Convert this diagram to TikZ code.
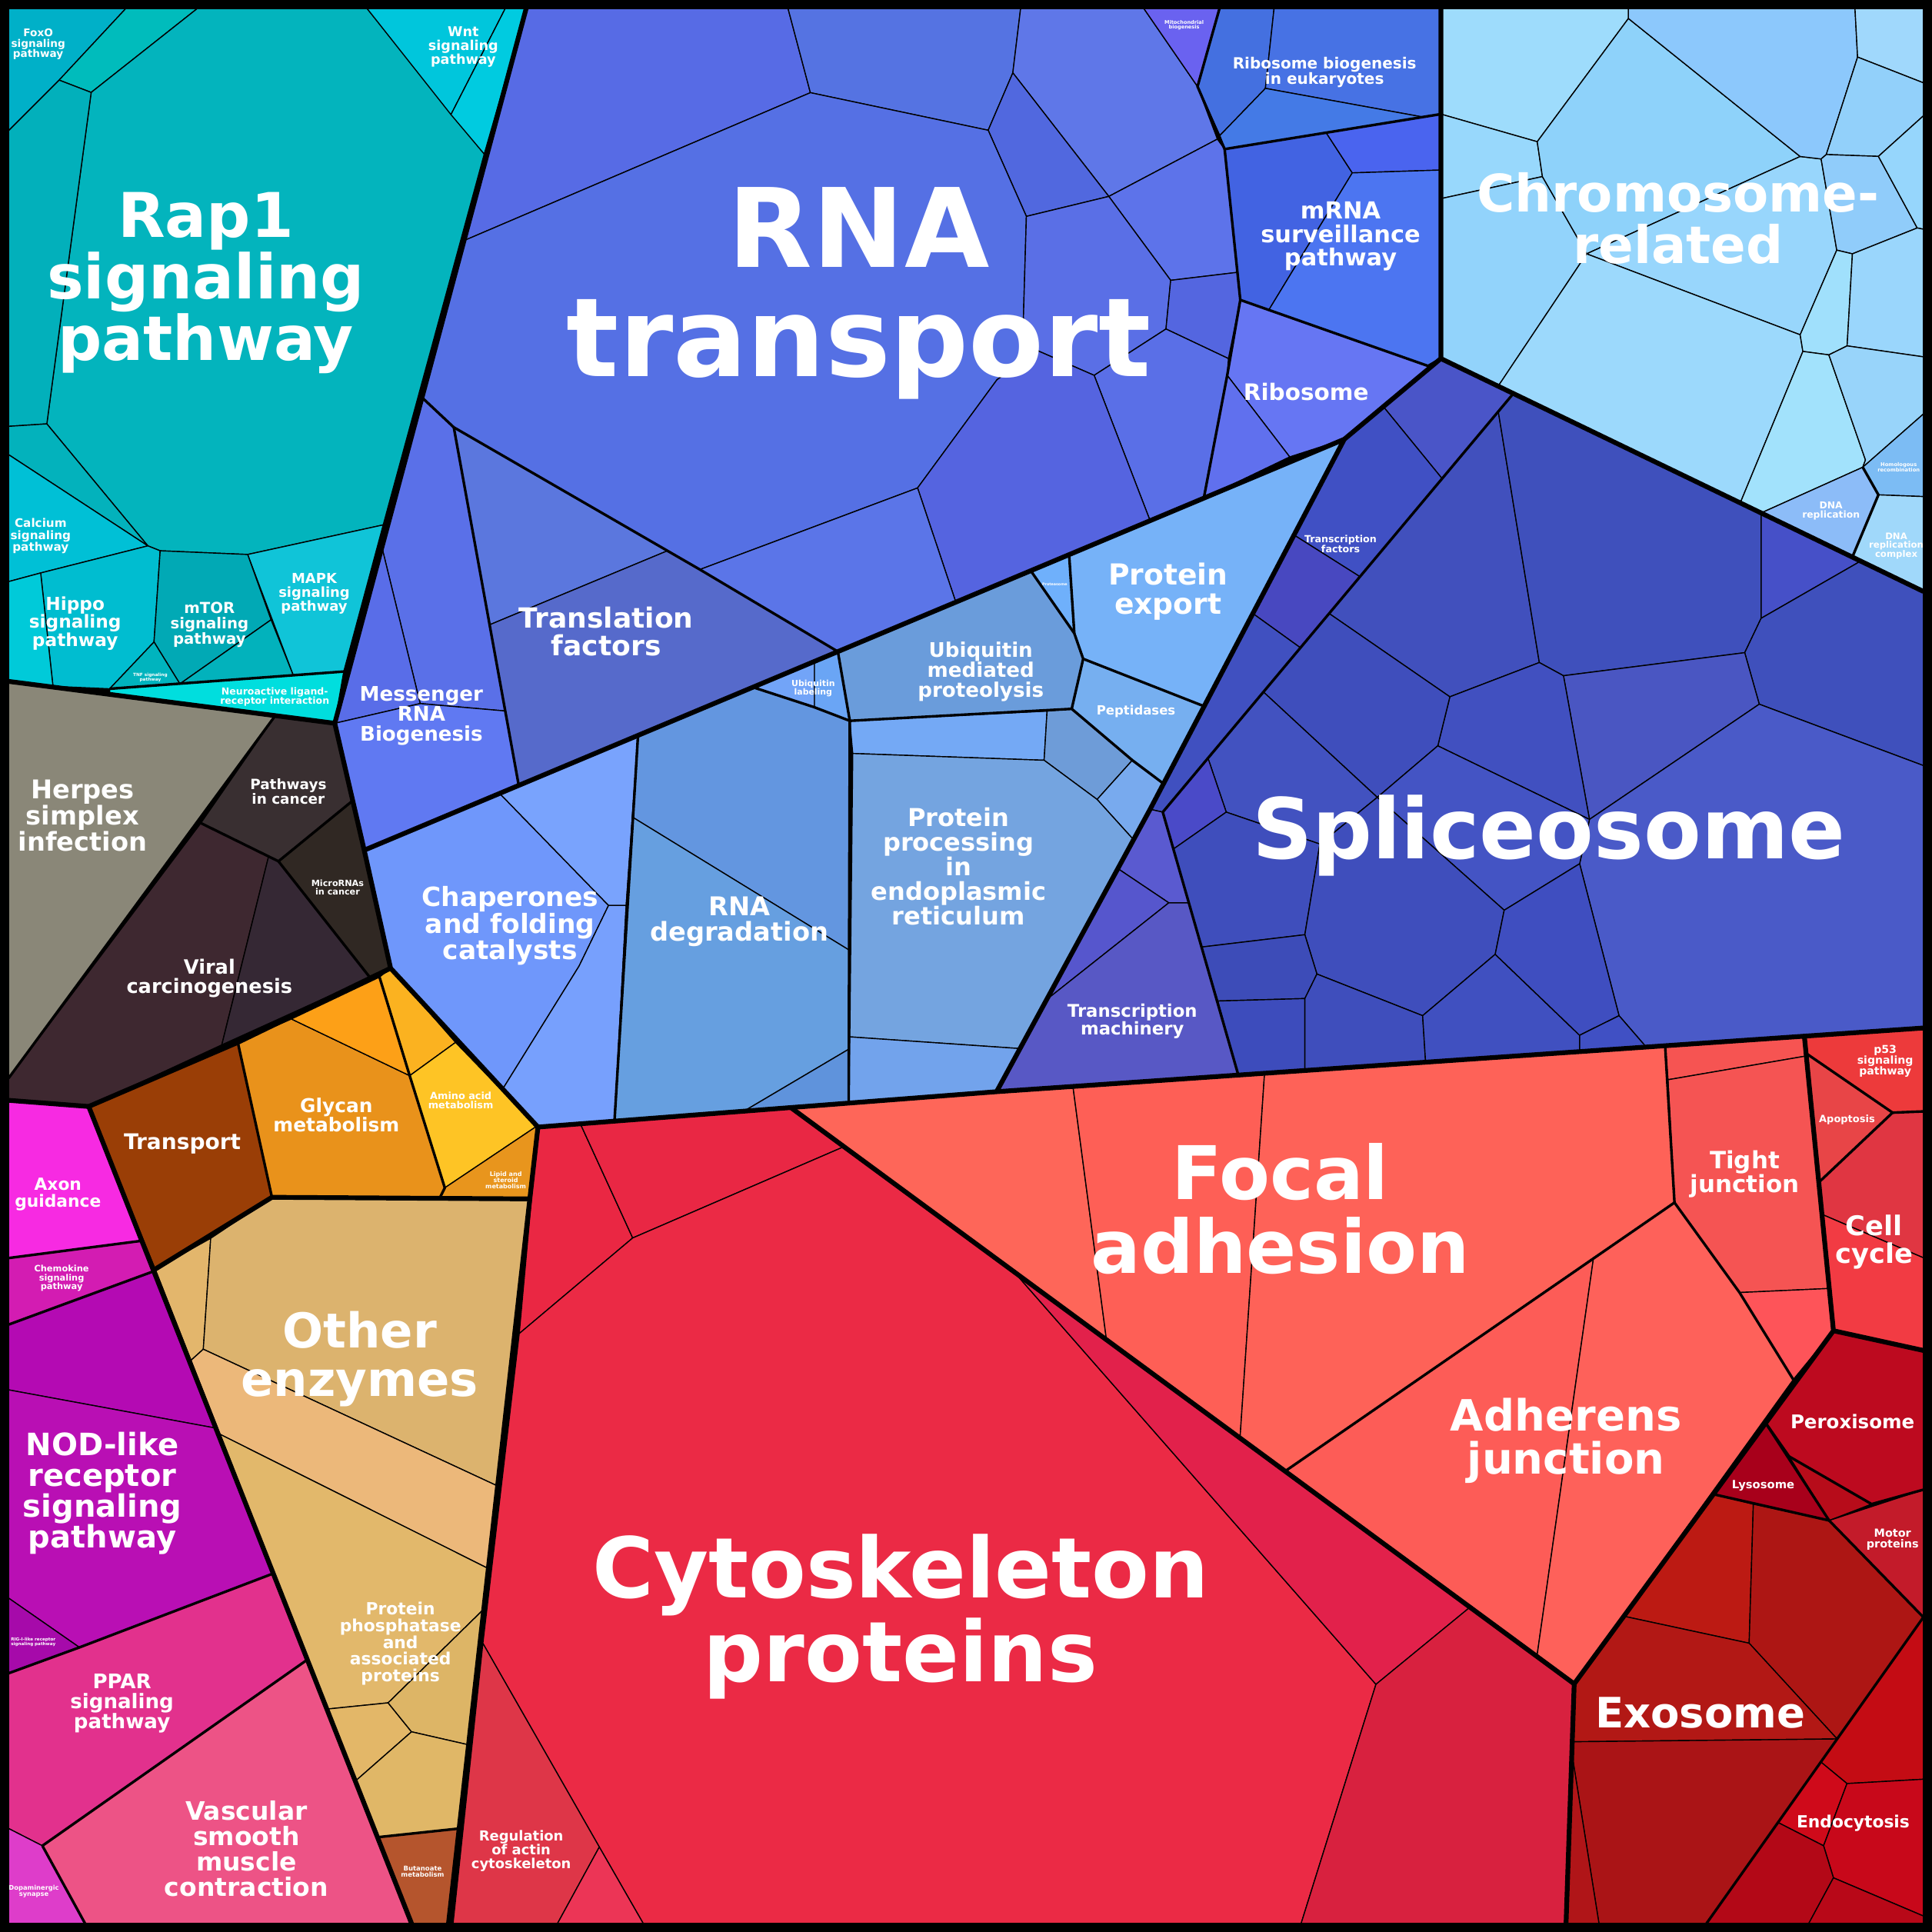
\documentclass[tikz,border=0pt]{standalone}
\usepackage{fontspec}
\setmainfont{DejaVu Sans}
\begin{document}
\begin{tikzpicture}[x=0.1mm, y=-0.1mm,
  cell/.style={draw=black, line width=0.25pt, line join=round},
  cf/.style={/utils/exec={\definecolor{cellc}{HTML}{#1}}, fill=cellc},
  mid/.style={line width=0.6pt, line join=round},
  thk/.style={line width=1.1pt, line join=round},
  lbl/.style={text=white, align=center, inner sep=0pt},
  fs/.style={font=\fontsize{#1mm}{#1mm}\selectfont\bfseries},
  ]
\useasboundingbox (0,0) rectangle (1568,1568);
\fill[black] (0,0) rectangle (1568,1568);

\filldraw[cell,cf=00B0C8] (7,7) -- (102,7) -- (48,65) -- (7,106) -- cycle;
\filldraw[cell,cf=00BCBC] (102,7) -- (160,7) -- (74,75) -- (48,65) -- cycle;
\filldraw[cell,cf=03B4BD] (160,7) -- (298,7) -- (393,125) -- (311,426) -- (201,450) -- (130,447) -- (120,443) -- (38,344) -- (74,75) -- cycle;
\filldraw[cell,cf=00C6DC] (298,7) -- (410,7) -- (366,93) -- cycle;
\filldraw[cell,cf=00CBE0] (410,7) -- (427,7) -- (393,125) -- (366,93) -- cycle;
\filldraw[cell,cf=02B0BB] (7,106) -- (48,65) -- (74,75) -- (38,344) -- (7,346) -- cycle;
\filldraw[cell,cf=03B2BC] (7,346) -- (38,344) -- (120,443) -- (7,369) -- cycle;
\filldraw[cell,cf=00C0D6] (7,369) -- (120,443) -- (33,465) -- (7,472) -- cycle;
\filldraw[cell,cf=00BDD0] (33,465) -- (120,443) -- (130,447) -- (125,521) -- (89,559) -- (43,557) -- cycle;
\filldraw[cell,cf=00CAD9] (7,472) -- (33,465) -- (43,557) -- (7,553) -- cycle;
\filldraw[cell,cf=10C4D8] (201,450) -- (311,426) -- (279,545) -- (238,548) -- cycle;
\filldraw[cell,cf=01A9B5] (130,447) -- (201,450) -- (220,503) -- (146,555) -- (125,521) -- cycle;
\filldraw[cell,cf=02B2BC] (220,503) -- (238,548) -- (146,555) -- cycle;
\filldraw[cell,cf=00B4BE] (125,521) -- (146,555) -- (89,559) -- cycle;
\filldraw[cell,cf=00DEDE] (89,559) -- (279,545) -- (271.7,587) -- (89,563) -- cycle;

\filldraw[cell,cf=8A8778] (7,553) -- (224,580) -- (7,875) -- cycle;
\filldraw[cell,cf=392F31] (224,580) -- (271.7,587) -- (286,650) -- (226,699) -- (163,668) -- cycle;
\filldraw[cell,cf=302823] (286,650) -- (295.6,690) -- (317,785.8) -- (300,793) -- (226,699) -- cycle;
\filldraw[cell,cf=3E2830] (163,668) -- (218,695) -- (180,848) -- (72,898) -- (7,893) -- (7,875) -- cycle;
\filldraw[cell,cf=352834] (218,695) -- (226,699) -- (300,793) -- (317,785.8) -- (180,848) -- cycle;

\filldraw[cell,cf=9A3E06] (72,898) -- (193,846) -- (220.7,971.7) -- (126,1030) -- cycle;
\filldraw[cell,cf=E9921B] (193,846) -- (236.5,827) -- (332.5,873) -- (361,964) -- (357,972) -- (220.7,971.7) -- cycle;
\filldraw[cell,cf=FDA017] (236.5,827) -- (308,793) -- (332.5,873) -- cycle;
\filldraw[cell,cf=FBB220] (308,793) -- (317,785.8) -- (369.7,846) -- (332.5,873) -- cycle;
\filldraw[cell,cf=FEC425] (332.5,873) -- (369.7,846) -- (435.6,914) -- (361,964) -- cycle;
\filldraw[cell,cf=E8951D] (361,964) -- (435.6,914) -- (430,973) -- (357,972) -- cycle;

\filldraw[cell,cf=E3B66C] (126,1030) -- (171,1005) -- (165,1095) -- (155,1104) -- cycle;
\filldraw[cell,cf=DCB36E] (171,1005) -- (220.7,971.7) -- (430,973) -- (403.8,1206) -- (165,1095) -- cycle;
\filldraw[cell,cf=ECB87A] (155,1104) -- (165,1095) -- (403.8,1206) -- (396.3,1273) -- (178.5,1164) -- cycle;
\filldraw[cell,cf=E2B86B] (178.5,1164) -- (396.3,1273) -- (392.6,1306) -- (315,1382) -- (266,1387) -- cycle;
\filldraw[cell,cf=E3B768] (266,1387) -- (315,1382) -- (334,1405.5) -- (289,1445) -- cycle;
\filldraw[cell,cf=DDB566] (315,1382) -- (392.6,1306) -- (380,1416) -- (334,1405.5) -- cycle;
\filldraw[cell,cf=E0B767] (289,1445) -- (334,1405.5) -- (380,1416) -- (372.7,1484) -- (307,1491) -- cycle;
\filldraw[cell,cf=B5552D] (307,1491) -- (372.7,1484) -- (364,1561) -- (334,1561) -- cycle;

\filldraw[cell,cf=F72AE2] (7,894) -- (72,898) -- (115,1007) -- (7,1021) -- cycle;
\filldraw[cell,cf=D31CB2] (7,1021) -- (115,1007) -- (124,1032) -- (7,1075) -- cycle;
\filldraw[cell,cf=B40AB3] (7,1075) -- (124,1032) -- (175,1159) -- (7,1128) -- cycle;
\filldraw[cell,cf=B90FB4] (7,1128) -- (175,1159) -- (221.8,1277) -- (64.5,1337) -- (7,1297) -- cycle;
\filldraw[cell,cf=A60AAA] (7,1297) -- (64.5,1337) -- (7,1358) -- cycle;
\filldraw[cell,cf=E2318D] (7,1358) -- (64.5,1337) -- (221.8,1277) -- (249.4,1347) -- (34.4,1498) -- (7,1484) -- cycle;
\filldraw[cell,cf=DE3DCA] (7,1484) -- (34.4,1498) -- (69,1561) -- (7,1561) -- cycle;
\filldraw[cell,cf=ED5386] (34.4,1498) -- (249.4,1347) -- (334,1561) -- (69,1561) -- cycle;

\filldraw[cell,cf=EA2743] (436.6,914.7) -- (471,912) -- (513.5,1004.7) -- (421.4,1082.3) -- cycle;
\filldraw[cell,cf=E92744] (471,912) -- (642,899) -- (685,930.6) -- (513.5,1004.7) -- cycle;
\filldraw[cell,cf=EB2A45] (421.4,1082.3) -- (513.5,1004.7) -- (685,930.6) -- (823,1032.2) -- (1116.7,1367) -- (1056,1561) -- (522,1561) -- (486.4,1499) -- (391.9,1333.7) -- cycle;
\filldraw[cell,cf=E2214B] (823,1032.2) -- (1193,1304.4) -- (1116.7,1367) -- cycle;
\filldraw[cell,cf=D8213F] (1116.7,1367) -- (1193,1304.4) -- (1277.6,1366.6) -- (1271,1561) -- (1056,1561) -- cycle;
\filldraw[cell,cf=DE3648] (391.9,1333.7) -- (486.4,1499) -- (452.5,1561) -- (367.7,1561) -- cycle;
\filldraw[cell,cf=EC3556] (486.4,1499) -- (522,1561) -- (452.5,1561) -- cycle;

\filldraw[cell,cf=FE6659] (642,899) -- (870.8,881.7) -- (898,1087.3) -- cycle;
\filldraw[cell,cf=FE5F56] (870.8,881.7) -- (1026.3,871) -- (1006.4,1167.1) -- (898,1087.3) -- cycle;
\filldraw[cell,cf=FE6258] (1026.3,871) -- (1351.4,848.7) -- (1359,976) -- (1043,1194) -- (1006.4,1167.1) -- cycle;
\filldraw[cell,cf=FD5C57] (1043,1194) -- (1293.3,1020.8) -- (1247.4,1344.1) -- cycle;
\filldraw[cell,cf=FE615A] (1293.3,1020.8) -- (1359,976) -- (1411.8,1049) -- (1455.4,1119.6) -- (1277.6,1366.6) -- (1247.4,1344.1) -- cycle;
\filldraw[cell,cf=F65452] (1351.4,848.7) -- (1464.4,841) -- (1466,857) -- (1353.7,876.3) -- cycle;
\filldraw[cell,cf=F55453] (1353.7,876.3) -- (1466,857) -- (1484.6,1045.7) -- (1411.8,1049) -- (1359,976) -- cycle;
\filldraw[cell,cf=FE5459] (1411.8,1049) -- (1484.6,1045.7) -- (1488,1080) -- (1455.4,1119.6) -- cycle;

\filldraw[cell,cf=ED3A3B] (1464.4,841) -- (1561,834.3) -- (1561,902) -- (1536,903) -- (1466,855) -- cycle;
\filldraw[cell,cf=E84547] (1466,855) -- (1536,903) -- (1476.1,959.6) -- cycle;
\filldraw[cell,cf=E03642] (1476.1,959.6) -- (1536,903) -- (1561,902) -- (1561,1020.8) -- (1478.6,985.5) -- cycle;
\filldraw[cell,cf=F23B43] (1478.6,985.5) -- (1561,1020.8) -- (1561,1096) -- (1488,1080) -- cycle;

\filldraw[cell,cf=BD0A1F] (1488,1080) -- (1561,1096) -- (1561,1209) -- (1519,1220.7) -- (1452,1182) -- (1433,1154.9) -- cycle;
\filldraw[cell,cf=B70C1A] (1452,1182) -- (1519,1220.7) -- (1484.5,1234) -- cycle;
\filldraw[cell,cf=A8001B] (1433,1154.9) -- (1484.5,1234) -- (1390.6,1212.7) -- cycle;
\filldraw[cell,cf=C31B2A] (1484.5,1234) -- (1561,1209) -- (1561,1312.5) -- cycle;
\filldraw[cell,cf=BC1A13] (1390.6,1212.7) -- (1423,1220.7) -- (1419.6,1333.6) -- (1317.9,1311.7) -- cycle;
\filldraw[cell,cf=AD1614] (1423,1220.7) -- (1484.5,1234) -- (1561,1312.5) -- (1491,1411.3) -- (1419.6,1333.6) -- cycle;
\filldraw[cell,cf=B21815] (1277.6,1366.6) -- (1317.9,1311.7) -- (1419.6,1333.6) -- (1491,1411.3) -- (1276,1413.6) -- cycle;
\filldraw[cell,cf=AA1416] (1276,1413.6) -- (1491,1411.3) -- (1385,1561) -- (1297.7,1561) -- (1275.7,1423) -- cycle;
\filldraw[cell,cf=B01518] (1275.7,1423) -- (1297.7,1561) -- (1271,1561) -- cycle;
\filldraw[cell,cf=C40C14] (1561,1312.5) -- (1561,1444) -- (1499,1447.5) -- (1477.8,1430) -- cycle;
\filldraw[cell,cf=CF0A1A] (1477.8,1430) -- (1499,1447.5) -- (1480,1498) -- (1443,1479.1) -- cycle;
\filldraw[cell,cf=C8081A] (1499,1447.5) -- (1561,1444) -- (1561,1555) -- (1488,1524) -- (1480,1498) -- cycle;
\filldraw[cell,cf=B30817] (1443,1479.1) -- (1480,1498) -- (1488,1524) -- (1468,1561) -- (1385,1561) -- cycle;
\filldraw[cell,cf=B80818] (1488,1524) -- (1561,1555) -- (1561,1561) -- (1468,1561) -- cycle;

\filldraw[cell,cf=576BE5] (427,7) -- (639.6,7) -- (657.7,75.2) -- (376.5,195.3) -- cycle;
\filldraw[cell,cf=5573E2] (639.6,7) -- (828.3,7) -- (822,59.1) -- (802,105.7) -- (657.7,75.2) -- cycle;
\filldraw[cell,cf=5F77E8] (828.3,7) -- (928.4,7) -- (971.9,70.2) -- (988,112.9) -- (899.9,159.4) -- (822,59.1) -- cycle;
\filldraw[cell,cf=6A62F0] (928.4,7) -- (989.7,7) -- (971.9,70.2) -- cycle;
\filldraw[cell,cf=5168DF] (822,59.1) -- (899.9,159.4) -- (833,175.6) -- (802,105.7) -- cycle;
\filldraw[cell,cf=5570E4] (376.5,195.3) -- (657.7,75.2) -- (802,105.7) -- (833,175.6) -- (830.6,258) -- (842.6,284.8) -- (809.2,308.1) -- (744.7,396) -- (568,462.2) -- (368.3,346.8) -- (342.4,322.5) -- cycle;
\filldraw[cell,cf=5D73EA] (899.9,159.4) -- (988,112.9) -- (993.9,121) -- (1004.5,221) -- (950.1,227.5) -- cycle;
\filldraw[cell,cf=5A6FE6] (833,175.6) -- (899.9,159.4) -- (950.1,227.5) -- (946.3,267) -- (888,304.6) -- (842.6,284.8) -- (830.6,258) -- cycle;
\filldraw[cell,cf=5466E0] (950.1,227.5) -- (1004.5,221) -- (1006.6,243.4) -- (997,291) -- (946.3,267) -- cycle;
\filldraw[cell,cf=5A6FE7] (888,304.6) -- (946.3,267) -- (997,291) -- (996,304.6) -- (977,404.3) -- (933.4,422.5) -- cycle;
\filldraw[cell,cf=5564E0] (842.6,284.8) -- (888,304.6) -- (933.4,422.5) -- (775.7,488.6) -- (744.7,396) -- (809.2,308.1) -- cycle;
\filldraw[cell,cf=5B75E8] (568,462.2) -- (744.7,396) -- (775.7,488.6) -- (680,528.8) -- cycle;
\filldraw[cell,cf=4470E0] (989.7,7) -- (1034,7) -- (1027,71.7) -- (990,110) -- (971.9,70.2) -- cycle;
\filldraw[cell,cf=4772E4] (1034,7) -- (1169.4,7) -- (1169.4,92.6) -- (1155,95) -- (1027,71.7) -- cycle;
\filldraw[cell,cf=447AE6] (990,110) -- (1027,71.7) -- (1155,95) -- (993.9,121) -- cycle;
\filldraw[cell,cf=4263E2] (993.9,121) -- (1076.3,107.7) -- (1097.5,140.3) -- (1029.8,251.5) -- (1006.6,243.4) -- cycle;
\filldraw[cell,cf=4A64EF] (1076.3,107.7) -- (1169.4,92.6) -- (1169.4,138) -- (1097.5,140.3) -- cycle;
\filldraw[cell,cf=4C75F1] (1097.5,140.3) -- (1169.4,138) -- (1169.4,291) -- (1159,297) -- (1029.8,251.5) -- cycle;
\filldraw[cell,cf=6676F3] (996,304.6) -- (1006.6,243.4) -- (1029.8,251.5) -- (1159,297) -- (1169.4,291) -- (1091,356.5) -- (1046.7,370.8) -- cycle;
\filldraw[cell,cf=6070EE] (996,304.6) -- (1046.7,370.8) -- (977,404.3) -- cycle;
\filldraw[cell,cf=5B77DE] (368.3,346.8) -- (541.7,447) -- (397.5,507) -- cycle;
\filldraw[cell,cf=566ACB] (397.5,507) -- (541.7,447) -- (568,462.2) -- (680,528.8) -- (421,637.4) -- cycle;
\filldraw[cell,cf=5A70E8] (342.4,322.5) -- (368.3,346.8) -- (410,577) -- (341,571) -- (310,444.3) -- cycle;
\filldraw[cell,cf=596DE8] (310,444.3) -- (341,571) -- (271.7,587) -- cycle;
\filldraw[cell,cf=6079F2] (271.7,587) -- (341,571) -- (410,577) -- (421,637.4) -- (295.6,690) -- cycle;

\filldraw[cell,cf=6F97FB] (295.6,690) -- (405.5,643.9) -- (493.9,734.8) -- (470,784) -- (407.9,884) -- (317,785.8) -- cycle;
\filldraw[cell,cf=79A3FD] (405.5,643.9) -- (517.8,596.8) -- (508.2,734.8) -- (493.9,734.8) -- cycle;
\filldraw[cell,cf=77A0FD] (493.9,734.8) -- (508.2,734.8) -- (498.7,910) -- (436.6,914.7) -- (407.9,884) -- (470,784) -- cycle;
\filldraw[cell,cf=6396E0] (517.8,596.8) -- (611,557.7) -- (661,574) -- (689.7,585) -- (689.7,771.4) -- (513.2,663.1) -- cycle;
\filldraw[cell,cf=669FE0] (513.2,663.1) -- (689.7,771.4) -- (689.7,851) -- (603.8,901.8) -- (498.7,910) -- (508.2,734.8) -- cycle;
\filldraw[cell,cf=5F93DC] (689.7,851) -- (688.8,895.3) -- (603.8,901.8) -- cycle;
\filldraw[cell,cf=72A4F8] (611,557.7) -- (661,536.8) -- (661,574) -- cycle;
\filldraw[cell,cf=6AA5F5] (661,536.8) -- (680,528.8) -- (689.7,585) -- (661,574) -- cycle;
\filldraw[cell,cf=6A9CDB] (680,528.8) -- (836.5,463.1) -- (871.9,514) -- (879.1,534.7) -- (869.8,575.3) -- (689.7,585) -- cycle;
\filldraw[cell,cf=6FB0FB] (836.5,463.1) -- (867.7,450.1) -- (871.9,514) -- cycle;
\filldraw[cell,cf=76B2F8] (867.7,450.1) -- (1091,356.5) -- (977.3,573.2) -- (879.1,534.7) -- (871.9,514) -- cycle;
\filldraw[cell,cf=76AFF0] (879.1,534.7) -- (977.3,573.2) -- (944.3,636) -- (919,617) -- (869.8,575.3) -- cycle;
\filldraw[cell,cf=74A9F5] (689.7,585) -- (849.8,577.1) -- (847.4,617) -- (692.1,611.5) -- cycle;
\filldraw[cell,cf=6E9CD8] (849.8,577.1) -- (869.8,575.3) -- (919,617) -- (890.4,648.8) -- (847.4,617) -- cycle;
\filldraw[cell,cf=78AAEE] (919,617) -- (944.3,636) -- (933.4,656.8) -- (920,681.5) -- (890.4,648.8) -- cycle;
\filldraw[cell,cf=74A4E0] (692.1,611.5) -- (847.4,617) -- (890.4,648.8) -- (920,681.5) -- (827.8,851) -- (689.7,841.5) -- cycle;
\filldraw[cell,cf=72A3EC] (689.7,841.5) -- (827.8,851) -- (808.8,886) -- (688.8,895.3) -- cycle;

\filldraw[cell,cf=4A55C8] (1122.7,330) -- (1169.4,291) -- (1228.2,319.4) -- (1170.4,388.4) -- cycle;
\filldraw[cell,cf=4050C4] (1091,356.5) -- (1122.7,330) -- (1170.4,388.4) -- (1103.7,468) -- (1050.2,434.2) -- cycle;
\filldraw[cell,cf=4848C0] (1050.2,434.2) -- (1103.7,468) -- (1055.4,525.7) -- (1016.8,497.9) -- cycle;
\filldraw[cell,cf=4050C0] (1016.8,497.9) -- (1055.4,525.7) -- (943.7,659.1) -- (933.4,656.8) -- cycle;
\filldraw[cell,cf=5A5AD0] (933.4,656.8) -- (943.7,659.1) -- (964.8,732.7) -- (948.6,732.7) -- (907.2,704.9) -- cycle;
\filldraw[cell,cf=5656CD] (907.2,704.9) -- (948.6,732.7) -- (850.5,810.4) -- cycle;
\filldraw[cell,cf=5858C5] (850.5,810.4) -- (948.6,732.7) -- (964.8,732.7) -- (1005,872.5) -- (808.8,886) -- cycle;
\filldraw[cell,cf=4150BD] (1216,334) -- (1249.3,537.7) -- (1176.7,565.5) -- (1078.7,497.9) -- cycle;
\filldraw[cell,cf=3F50BC] (1228.2,319.4) -- (1429.3,416.3) -- (1429.3,501.8) -- (1416,529.7) -- (1268.9,548.4) -- (1249.3,537.7) -- (1216,334) -- cycle;
\filldraw[cell,cf=4650C8] (1429.3,416.3) -- (1510.2,455.3) -- (1429.3,501.8) -- cycle;
\filldraw[cell,cf=3F50BC] (1429.3,501.8) -- (1510.2,455.3) -- (1561,480) -- (1561,621.3) -- (1427.8,571.5) -- (1416,529.7) -- cycle;
\filldraw[cell,cf=4A56C2] (1268.9,548.4) -- (1416,529.7) -- (1427.8,571.5) -- (1290,665) -- cycle;
\filldraw[cell,cf=4A5AC8] (1290,665) -- (1427.8,571.5) -- (1561,621.3) -- (1561,834.3) -- (1336,849.7) -- (1314,824.3) -- (1282,701) -- cycle;
\filldraw[cell,cf=4150C0] (1176.7,565.5) -- (1249.3,537.7) -- (1268.9,548.4) -- (1290,665) -- (1166.9,605.3) -- cycle;
\filldraw[cell,cf=3F4EBC] (1078.7,497.9) -- (1176.7,565.5) -- (1166.9,605.3) -- (1117.8,647.1) -- (1025.4,561.6) -- cycle;
\filldraw[cell,cf=4252C0] (1025.4,561.6) -- (1117.8,647.1) -- (1071.2,685) -- (995.2,659.1) -- (980.4,615.3) -- cycle;
\filldraw[cell,cf=4A4AC8] (980.4,615.3) -- (995.2,659.1) -- (952.4,689) -- (943.7,659.1) -- cycle;
\filldraw[cell,cf=3F4EBC] (995.2,659.1) -- (1071.2,685) -- (1059,758.6) -- (975.2,768.6) -- (952.4,689) -- cycle;
\filldraw[cell,cf=4454C4] (1117.8,647.1) -- (1166.9,605.3) -- (1290,665) -- (1282,701) -- (1220.8,738.7) -- cycle;
\filldraw[cell,cf=3F4EBC] (1071.2,685) -- (1117.8,647.1) -- (1220.8,738.7) -- (1213.5,774.5) -- (1154.6,824.3) -- (1068.8,790.5) -- (1059,758.6) -- cycle;
\filldraw[cell,cf=3D4CB8] (975.2,768.6) -- (1059,758.6) -- (1068.8,790.5) -- (1059,810.4) -- (988.3,812.4) -- cycle;
\filldraw[cell,cf=3D4CBC] (988.3,812.4) -- (1059,810.4) -- (1059,868.8) -- (1005,872.5) -- cycle;
\filldraw[cell,cf=3F4EBC] (1059,810.4) -- (1068.8,790.5) -- (1154.6,824.3) -- (1157,862) -- (1059,868.8) -- cycle;
\filldraw[cell,cf=4050C0] (1154.6,824.3) -- (1213.5,774.5) -- (1282,840.2) -- (1282,853.5) -- (1157,862) -- cycle;
\filldraw[cell,cf=3F4EC0] (1213.5,774.5) -- (1220.8,738.7) -- (1282,701) -- (1314,824.3) -- (1282,840.2) -- cycle;
\filldraw[cell,cf=4050C4] (1282,840.2) -- (1314,824.3) -- (1336,849.7) -- (1282,853.5) -- cycle;

\filldraw[cell,cf=9EDCFC] (1169.4,7) -- (1321.6,7) -- (1321.6,15) -- (1247.6,115) -- (1169.4,92.6) -- cycle;
\filldraw[cell,cf=98D8FC] (1169.4,92.6) -- (1247.6,115) -- (1251.8,143.3) -- (1169.4,161.2) -- cycle;
\filldraw[cell,cf=92D3FB] (1169.4,161.2) -- (1251.8,143.3) -- (1287.7,206) -- (1215.9,313.4) -- (1169.4,291) -- cycle;
\filldraw[cell,cf=8ED2FA] (1247.6,115) -- (1321.6,15) -- (1461,127) -- (1287.7,206) -- (1251.8,143.3) -- cycle;
\filldraw[cell,cf=98D6FC] (1287.7,206) -- (1461,127) -- (1478,129) -- (1490.7,203) -- (1461,271.7) -- cycle;
\filldraw[cell,cf=9CD9FC] (1287.7,206) -- (1461,271.7) -- (1463.2,285.2) -- (1412.4,408.1) -- (1215.9,313.4) -- cycle;
\filldraw[cell,cf=8CC8FC] (1321.6,7) -- (1505.5,7) -- (1507.6,46.3) -- (1482.2,125.4) -- (1478,129) -- (1461,127) -- (1321.6,15) -- cycle;
\filldraw[cell,cf=A0D8FC] (1505.5,7) -- (1561,7) -- (1561,67.2) -- (1507.6,46.3) -- cycle;
\filldraw[cell,cf=92D0FA] (1507.6,46.3) -- (1561,67.2) -- (1561,94) -- (1524.5,126.9) -- (1482.2,125.4) -- cycle;
\filldraw[cell,cf=90CCFA] (1482.2,125.4) -- (1524.5,126.9) -- (1556,185) -- (1503.4,206) -- (1490.7,203) -- (1478,129) -- cycle;
\filldraw[cell,cf=96D6FC] (1524.5,126.9) -- (1561,94) -- (1561,186) -- (1556,185) -- cycle;
\filldraw[cell,cf=A0E0FC] (1461,271.7) -- (1490.7,203) -- (1503.4,206) -- (1499.1,280.7) -- (1484.3,288) -- (1463.2,285.2) -- cycle;
\filldraw[cell,cf=9AD6FC] (1503.4,206) -- (1556,185) -- (1561,186) -- (1561,289.6) -- (1499.1,280.7) -- cycle;
\filldraw[cell,cf=A2E2FC] (1463.2,285.2) -- (1484.3,288) -- (1514,373.3) -- (1511.8,379.2) -- (1429.3,416.3) -- (1412.4,408.1) -- cycle;
\filldraw[cell,cf=98D4FA] (1484.3,288) -- (1499.1,280.7) -- (1561,289.6) -- (1561,336) -- (1511.8,379.2) -- (1514,373.3) -- cycle;
\filldraw[cell,cf=7CBCF4] (1511.8,379.2) -- (1561,336) -- (1561,403) -- (1524.5,401.6) -- cycle;
\filldraw[cell,cf=8CBCF8] (1429.3,416.3) -- (1511.8,379.2) -- (1524.5,401.6) -- (1503.4,452) -- cycle;
\filldraw[cell,cf=A0D8FA] (1503.4,452) -- (1524.5,401.6) -- (1561,403) -- (1561,480) -- cycle;

\draw[mid] (89,559) -- (279,545);
\draw[mid] (224,580) -- (7,875);
\draw[mid] (163,668) -- (226,699) -- (286,650);
\draw[mid] (226,699) -- (300,793) -- (317,785.8);
\draw[mid] (7,1021) -- (115,1007);
\draw[mid] (7,1075) -- (124,1032);
\draw[mid] (7,1358) -- (64.5,1337) -- (221.8,1277);
\draw[mid] (34.4,1498) -- (249.4,1347);
\draw[mid] (34.4,1498) -- (69,1561);
\draw[mid] (193,846) -- (220.7,971.7);
\draw[mid] (308,793) -- (332.5,873) -- (361,964) -- (357,972);
\draw[mid] (307,1491) -- (372.7,1484);
\draw[mid] (989.7,7) -- (971.9,70.2) -- (993.9,121) -- (1169.4,92.6);
\draw[mid] (993.9,121) -- (1006.6,243.4) -- (1159,297) -- (1169.4,291);
\draw[mid] (1006.6,243.4) -- (996,304.6) -- (977,404.3);
\draw[mid] (342.4,322.5) -- (368.3,346.8) -- (568,462.2) -- (680,528.8);
\draw[mid] (368.3,346.8) -- (421,637.4);
\draw[mid] (517.8,596.8) -- (498.7,910);
\draw[mid] (611,557.7) -- (661,574) -- (689.7,585) -- (688.8,895.3);
\draw[mid] (680,528.8) -- (689.7,585) -- (869.8,575.3) -- (879.1,534.7) -- (871.9,514) -- (836.5,463.1);
\draw[mid] (871.9,514) -- (867.7,450.1);
\draw[mid] (879.1,534.7) -- (977.3,573.2);
\draw[mid] (869.8,575.3) -- (919,617) -- (944.3,636);
\draw[mid] (1228.2,319.4) -- (943.7,659.1) -- (1005,872.5);
\draw[mid] (1351.4,848.7) -- (1359,976) -- (1043,1194);
\draw[mid] (1359,976) -- (1411.8,1049) -- (1455.4,1119.6);
\draw[mid] (1466,855) -- (1536,903) -- (1561,902);
\draw[mid] (1536,903) -- (1476.1,959.6);
\draw[mid] (1433,1154.9) -- (1452,1182) -- (1519,1220.7) -- (1561,1209);
\draw[mid] (1433,1154.9) -- (1484.5,1234) -- (1390.6,1212.7);
\draw[mid] (1484.5,1234) -- (1561,1312.5) -- (1385,1561);
\draw[mid] (1511.8,379.2) -- (1524.5,401.6) -- (1503.4,452);

\draw[thk] (427,7) -- (271.7,587) -- (295.6,690) -- (317,785.8) -- (436.6,914.7) -- (430,973) -- (364,1561);
\draw[thk] (7,553) -- (271.7,587);
\draw[thk] (317,785.8) -- (193,846) -- (72,898) -- (7,893);
\draw[thk] (72,898) -- (334,1561);
\draw[thk] (126,1030) -- (220.7,971.7) -- (430,973);
\draw[thk] (295.6,690) -- (1091,356.5) -- (1169.4,291) -- (1169.4,7);
\draw[thk] (1169.4,291) -- (1429.3,416.3) -- (1561,480);
\draw[thk] (1091,356.5) -- (933.4,656.8) -- (808.8,886);
\draw[thk] (436.6,914.7) -- (808.8,886) -- (1561,834.3);
\draw[thk] (642,899) -- (1277.6,1366.6) -- (1271,1561);
\draw[thk] (1464.4,841) -- (1488,1080) -- (1277.6,1366.6);
\draw[thk] (1488,1080) -- (1561,1096);
\draw[line width=0.7mm] (3.5,3.5) rectangle (1564.5,1564.5);

\node[lbl, fs=0.85] (foxo) at (31,36) {FoxO\\signaling\\pathway};
\node[lbl, fs=1.1] (wnt) at (376,38) {Wnt\\signaling\\pathway};
\node[lbl, fs=5.0] (rap1) at (167,229.5) {Rap1\\signaling\\pathway};
\node[lbl, fs=0.95] (calcium) at (33,435) {Calcium\\signaling\\pathway};
\node[lbl, fs=1.45] (hippo) at (61,506) {Hippo\\signaling\\pathway};
\node[lbl, fs=1.23] (mtor) at (170,507) {mTOR\\signaling\\pathway};
\node[lbl, fs=1.12] (mapk) at (255,482) {MAPK\\signaling\\pathway};
\node[lbl, fs=0.36] (tnf) at (122,550) {TNF signaling\\pathway};
\node[lbl, fs=0.78] (neuro) at (223,565.5) {Neuroactive ligand-\\receptor interaction};
\node[lbl, fs=2.1] (herpes) at (67,662) {Herpes\\simplex\\infection};
\node[lbl, fs=1.15] (pathcancer) at (234,642.5) {Pathways\\in cancer};
\node[lbl, fs=0.7] (micro) at (274,720) {MicroRNAs\\in cancer};
\node[lbl, fs=1.6] (viral) at (170,794) {Viral\\carcinogenesis};
\node[lbl, fs=1.75] (transp) at (148,928) {Transport};
\node[lbl, fs=1.55] (glycan) at (273,905) {Glycan\\metabolism};
\node[lbl, fs=0.8] (amino) at (374,893) {Amino acid\\metabolism};
\node[lbl, fs=0.5] (lipid) at (410.5,958) {Lipid and\\steroid\\metabolism};
\node[lbl, fs=1.36] (axon) at (47,969.5) {Axon\\guidance};
\node[lbl, fs=0.71] (chemo) at (50,1037.5) {Chemokine\\signaling\\pathway};
\node[lbl, fs=2.5] (nod) at (83,1212) {NOD-like\\receptor\\signaling\\pathway};
\node[lbl, fs=0.35] (rig) at (27,1332.5) {RIG-I-like receptor\\signaling pathway};
\node[lbl, fs=1.63] (ppar) at (99,1382.5) {PPAR\\signaling\\pathway};
\node[lbl, fs=0.52] (dopa) at (27.5,1535) {Dopaminergic\\synapse};
\node[lbl, fs=2.06] (vascular) at (200,1500.5) {Vascular\\smooth\\muscle\\contraction};
\node[lbl, fs=3.9] (enzymes) at (292,1103) {Other\\enzymes};
\node[lbl, fs=1.36] (phosph) at (325,1334) {Protein\\phosphatase\\and\\associated\\proteins};
\node[lbl, fs=0.53] (butan) at (343,1519) {Butanoate\\metabolism};
\node[lbl, fs=1.12] (regul) at (423,1502) {Regulation\\of actin\\cytoskeleton};
\node[lbl, fs=6.8] (cyto) at (731,1312) {Cytoskeleton\\proteins};
\node[lbl, fs=6.0] (focal) at (1039,981) {Focal\\adhesion};
\node[lbl, fs=3.5] (adherens) at (1271,1169) {Adherens\\junction};
\node[lbl, fs=1.93] (tight) at (1416,953) {Tight\\junction};
\node[lbl, fs=0.88] (p53) at (1530,861.5) {p53\\signaling\\pathway};
\node[lbl, fs=0.81] (apopt) at (1499,908.5) {Apoptosis};
\node[lbl, fs=2.2] (cellcyc) at (1521,1008) {Cell\\cycle};
\node[lbl, fs=1.53] (perox) at (1503.5,1154) {Peroxisome};
\node[lbl, fs=0.92] (lyso) at (1431,1205.5) {Lysosome};
\node[lbl, fs=0.9] (motor) at (1536,1249.5) {Motor\\proteins};
\node[lbl, fs=3.4] (exosome) at (1380,1390) {Exosome};
\node[lbl, fs=1.36] (endo) at (1504,1480) {Endocytosis};
\node[lbl, fs=6.8] (splice) at (1257,678) {Spliceosome};
\node[lbl, fs=1.42] (tmach) at (919,829) {Transcription\\machinery};
\node[lbl, fs=0.79] (tfac) at (1088,441.5) {Transcription\\factors};
\node[lbl, fs=0.77] (dnarep) at (1486,414.5) {DNA\\replication};
\node[lbl, fs=0.73] (dnacplx) at (1539,443) {DNA\\replication\\complex};
\node[lbl, fs=0.42] (homrec) at (1541,379) {Homologous\\recombination};
\node[lbl, fs=4.2] (chrom) at (1362,177) {Chromosome-\\related};
\node[lbl, fs=1.84] (ribo) at (1060,318) {Ribosome};
\node[lbl, fs=1.25] (ribobio) at (1075,59) {Ribosome biogenesis\\in eukaryotes};
\node[lbl, fs=1.9] (mrnasurv) at (1088,192) {mRNA\\surveillance\\pathway};
\node[lbl, fs=0.41] (mito) at (961,20.5) {Mitochondrial\\biogenesis};
\node[lbl, fs=8.9] (rnatr) at (697,238) {RNA\\transport};
\node[lbl, fs=2.25] (transl) at (492,512.5) {Translation\\factors};
\node[lbl, fs=1.63] (messenger) at (342,581) {Messenger\\RNA\\Biogenesis};
\node[lbl, fs=2.15] (chaper) at (414,751.5) {Chaperones\\and folding\\catalysts};
\node[lbl, fs=2.1] (rnadeg) at (600,748) {RNA\\degradation};
\node[lbl, fs=2.0] (pproc) at (778,703) {Protein\\processing\\in\\endoplasmic\\reticulum};
\node[lbl, fs=1.63] (ubiq) at (796,545) {Ubiquitin\\mediated\\proteolysis};
\node[lbl, fs=0.68] (ulab) at (660,558.5) {Ubiquitin\\labeling};
\node[lbl, fs=0.3] (proteas) at (856,474) {Proteasome};
\node[lbl, fs=2.35] (pexport) at (948,480) {Protein\\export};
\node[lbl, fs=1.03] (peptid) at (922,577.5) {Peptidases};
\end{tikzpicture}
\end{document}
